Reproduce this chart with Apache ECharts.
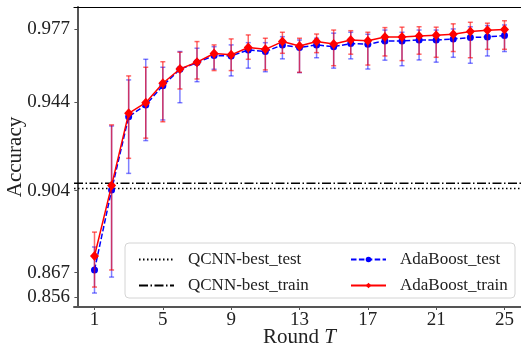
<!DOCTYPE html>
<html>
<head>
<meta charset="utf-8">
<script src="https://cdn.jsdelivr.net/npm/echarts@6/dist/echarts.min.js"></script>
<style>
  html, body { margin: 0; padding: 0; background: #fff; }
  #chart { width: 521px; height: 349px; }
</style>
</head>
<body>
<div id="chart"></div>
<script>
// AdaBoost (QCNN weak learners) accuracy per boosting round, with error bars.
const rounds = [1, 2, 3, 4, 5, 6, 7, 8, 9, 10, 11, 12, 13, 14, 15, 16, 17, 18, 19, 20, 21, 22, 23, 24, 25];

const testMean = [0.8682, 0.9043, 0.9374, 0.9427, 0.9514, 0.9588, 0.9618, 0.9650, 0.9648, 0.9675, 0.9668, 0.9698, 0.9686,
  0.9698, 0.9690, 0.9704, 0.9701, 0.9716, 0.9716, 0.9720, 0.9720, 0.9725, 0.9731, 0.9734, 0.9740];
const testLow = [0.8578, 0.8650, 0.9118, 0.9266, 0.9359, 0.9437, 0.9532, 0.9588, 0.9558, 0.9593, 0.9577, 0.9635, 0.9573,
  0.9640, 0.9593, 0.9635, 0.9589, 0.9629, 0.9604, 0.9630, 0.9620, 0.9642, 0.9615, 0.9648, 0.9668];
const testHigh = [0.8786, 0.9332, 0.9540, 0.9633, 0.9597, 0.9668, 0.9683, 0.9690, 0.9698, 0.9708, 0.9708, 0.9735, 0.9720,
  0.9728, 0.9751, 0.9755, 0.9746, 0.9765, 0.9755, 0.9765, 0.9765, 0.9770, 0.9780, 0.9785, 0.9788];

const trainMean = [0.8745, 0.9063, 0.9389, 0.9437, 0.9525, 0.9589, 0.9620, 0.9659, 0.9653, 0.9686, 0.9678, 0.9713, 0.9693,
  0.9713, 0.9702, 0.9720, 0.9717, 0.9734, 0.9734, 0.9738, 0.9742, 0.9746, 0.9758, 0.9764, 0.9767];
const trainLow = [0.8605, 0.8682, 0.9186, 0.9277, 0.9351, 0.9499, 0.9544, 0.9582, 0.9582, 0.9633, 0.9585, 0.9660, 0.9574,
  0.9663, 0.9604, 0.9656, 0.9607, 0.9648, 0.9627, 0.9656, 0.9642, 0.9668, 0.9640, 0.9678, 0.9678];
const trainHigh = [0.8853, 0.9337, 0.9558, 0.9597, 0.9622, 0.9665, 0.9713, 0.9698, 0.9725, 0.9743, 0.9728, 0.9755, 0.9728,
  0.9747, 0.9765, 0.9762, 0.9755, 0.9776, 0.9778, 0.9780, 0.9778, 0.9793, 0.9800, 0.9796, 0.9807];

// best single QCNN, drawn as horizontal reference lines across the plot
const qcnnTest = 0.9050;
const qcnnTrain = 0.9073;

const xTicks = [1, 5, 9, 13, 17, 21, 25];
const yTicks = [0.856, 0.867, 0.904, 0.944, 0.977];
const X_MIN = -0.2, X_MAX = 26.2;
const Y_MIN = 0.8515, Y_MAX = 0.9869;

const SERIF = "'Liberation Serif', 'DejaVu Serif', serif";
const AXIS = '#555';
const INK = '#222';

const chart = echarts.init(document.getElementById('chart'), null, { renderer: 'canvas' });

// vertical bar with small caps at both ends
const errBars = (name, low, high, color, z) => ({
  type: 'custom',
  name,
  z,
  silent: true,
  data: rounds.map((r, i) => [r, low[i], high[i]]),
  encode: { x: 0, y: [1, 2] },
  renderItem: (params, api) => {
    const lo = api.coord([api.value(0), api.value(1)]);
    const hi = api.coord([api.value(0), api.value(2)]);
    const c = 2.5;
    const st = { stroke: color, lineWidth: 1.5 };
    return {
      type: 'group',
      children: [
        { type: 'line', shape: { x1: lo[0], y1: lo[1], x2: hi[0], y2: hi[1] }, style: st },
        { type: 'line', shape: { x1: lo[0] - c, y1: lo[1], x2: lo[0] + c, y2: lo[1] }, style: st },
        { type: 'line', shape: { x1: hi[0] - c, y1: hi[1], x2: hi[0] + c, y2: hi[1] }, style: st },
      ],
    };
  },
});

const refLine = (name, value, dash) => ({
  name,
  type: 'line',
  z: 1,
  silent: true,
  data: [[X_MIN, value], [X_MAX, value]],
  symbol: 'none',
  lineStyle: { color: '#000', width: 1.5, type: dash },
  itemStyle: { color: '#000' },
});

const legendBase = {
  orient: 'vertical',
  top: 246,
  itemWidth: 35,
  itemHeight: 7,
  itemGap: 9,
  textStyle: { fontFamily: SERIF, fontSize: 17, color: INK, lineHeight: 16, padding: [0, 0, 0, 9] },
};

chart.setOption({
  animation: false,
  grid: { left: 74, right: -4, top: 7, bottom: 42, containLabel: false, outerBoundsMode: 'none' },
  xAxis: [
    {
      type: 'value',
      min: X_MIN,
      max: X_MAX,
      name: 'Round {i|T}',
      nameLocation: 'middle',
      nameGap: 20,
      nameMoveOverlap: false,
      nameTextStyle: {
        fontFamily: SERIF, fontSize: 21, color: INK,
        rich: { i: { fontFamily: SERIF, fontSize: 21, fontStyle: 'italic', color: INK } },
      },
      axisLine: { lineStyle: { color: AXIS, width: 2 } },
      axisTick: { show: true, length: 3, customValues: xTicks, lineStyle: { color: AXIS } },
      axisLabel: { customValues: xTicks, fontFamily: SERIF, fontSize: 19, color: INK, margin: 4 },
      splitLine: { show: false },
    },
    {
      type: 'value',
      position: 'top',
      min: X_MIN,
      max: X_MAX,
      axisLine: { show: true, lineStyle: { color: '#000', width: 1.2 } },
      axisTick: { show: false },
      axisLabel: { show: false },
      splitLine: { show: false },
    },
  ],
  yAxis: {
    type: 'value',
    min: Y_MIN,
    max: Y_MAX,
    name: 'Accuracy',
    nameLocation: 'middle',
    nameGap: 48,
    nameMoveOverlap: false,
    nameTextStyle: { fontFamily: SERIF, fontSize: 21, color: INK },
    axisLine: { show: true, lineStyle: { color: AXIS, width: 2 } },
    axisTick: { show: true, length: 3, customValues: yTicks, lineStyle: { color: AXIS } },
    axisLabel: {
      customValues: yTicks,
      formatter: (v) => v.toFixed(3),
      fontFamily: SERIF, fontSize: 19, color: INK, margin: 4,
    },
    splitLine: { show: false },
  },
  legend: [
    {
      ...legendBase,
      left: 133,
      data: [
        { name: 'QCNN-best_test', itemStyle: { opacity: 0 } },
        { name: 'QCNN-best_train', itemStyle: { opacity: 0 } },
      ],
    },
    { ...legendBase, left: 345, data: ['AdaBoost_test', 'AdaBoost_train'] },
  ],
  graphic: [
    {
      type: 'rect',
      z: 3,
      shape: { x: 125, y: 243, width: 390, height: 55, r: 4 },
      style: { fill: 'rgba(255,255,255,0.85)', stroke: '#d4d4d4', lineWidth: 1 },
    },
  ],
  series: [
    refLine('QCNN-best_test', qcnnTest, [1.5, 2.5]),
    refLine('QCNN-best_train', qcnnTrain, [9, 2.5, 1.5, 2.5]),
    errBars('test_err', testLow, testHigh, 'rgba(0,0,255,0.5)', 2),
    {
      name: 'AdaBoost_test',
      type: 'line',
      z: 3,
      data: rounds.map((r, i) => [r, testMean[i]]),
      symbol: 'circle',
      symbolSize: 7,
      lineStyle: { color: '#0000ff', width: 1.5, type: [5.5, 2.4] },
      itemStyle: { color: '#0000ff' },
    },
    errBars('train_err', trainLow, trainHigh, 'rgba(255,0,0,0.6)', 4),
    {
      name: 'AdaBoost_train',
      type: 'line',
      z: 5,
      data: rounds.map((r, i) => [r, trainMean[i]]),
      symbol: 'diamond',
      symbolSize: [9, 10],
      lineStyle: { color: '#ff0000', width: 1.5 },
      itemStyle: { color: '#ff0000' },
    },
  ],
});
</script>
</body>
</html>
